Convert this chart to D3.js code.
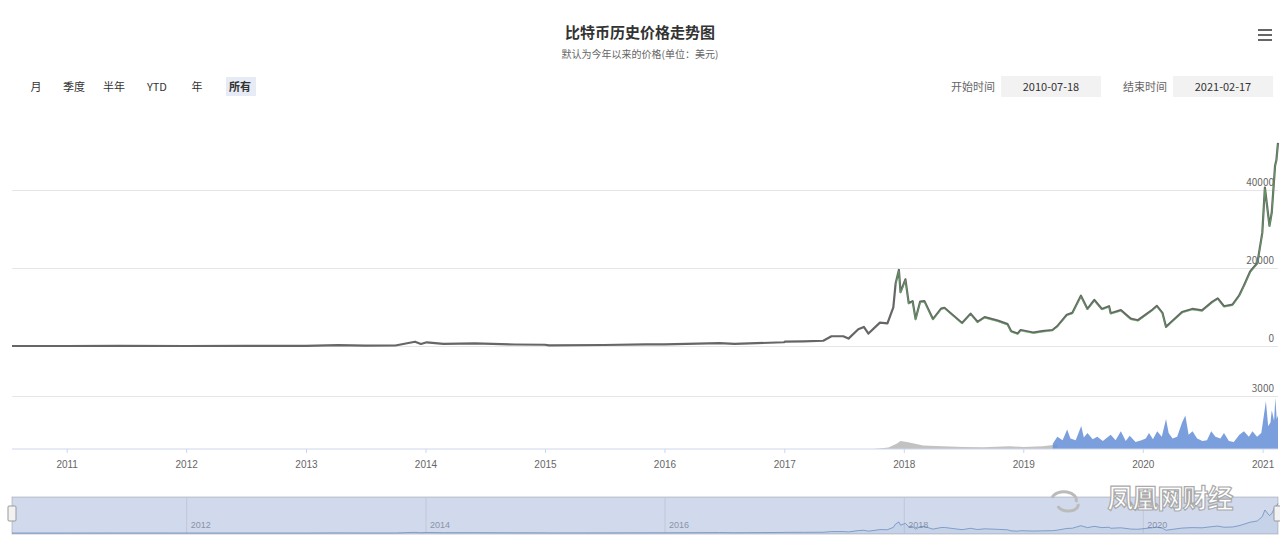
<!DOCTYPE html>
<html>
<head>
<meta charset="utf-8">
<script src="https://cdn.jsdelivr.net/npm/d3@7/dist/d3.min.js"></script>
<style>
	body{margin:0;background:#fff;}
	svg{font-family:"Noto Sans CJK SC","Noto Sans",sans-serif;}
	.grid line{stroke:#e6e6e6;}
	.grid path{display:none;}
</style>
</head>
<body>
<div id="chart"></div>
<script>
/*가격 데이터 (날짜, 달러)*/
var price_dates = ["2010-07-18","2011-01-01","2011-06-08","2011-12-31","2012-06-30","2012-12-31","2013-04-09","2013-07-01","2013-10-01","2013-11-30","2013-12-18","2014-01-05","2014-02-25","2014-06-01","2014-09-30","2014-12-31","2015-01-14","2015-06-30","2015-11-04","2015-12-31","2016-06-17","2016-08-02","2016-12-31","2017-01-04","2017-03-01","2017-04-30","2017-05-25","2017-06-30","2017-07-16","2017-08-15","2017-09-01","2017-09-15","2017-10-20","2017-11-12","2017-11-30","2017-12-07","2017-12-17","2017-12-22","2018-01-06","2018-01-16","2018-01-28","2018-02-06","2018-02-20","2018-03-05","2018-03-31","2018-04-25","2018-05-05","2018-06-28","2018-07-24","2018-08-14","2018-09-05","2018-10-15","2018-11-14","2018-11-25","2018-12-15","2018-12-24","2019-01-31","2019-02-28","2019-03-31","2019-04-15","2019-05-14","2019-05-31","2019-06-26","2019-07-16","2019-08-06","2019-08-29","2019-09-20","2019-09-25","2019-10-26","2019-11-25","2019-12-17","2020-01-31","2020-02-13","2020-03-01","2020-03-12","2020-03-31","2020-04-30","2020-05-31","2020-06-30","2020-07-31","2020-08-17","2020-09-05","2020-10-01","2020-10-21","2020-11-05","2020-11-24","2020-12-16","2020-12-31","2021-01-08","2021-01-22","2021-01-29","2021-02-08","2021-02-12","2021-02-17"];
var price_values = [0.09,0.3,30,4.7,6.7,13.5,230,90,125,1100,520,950,530,650,390,320,180,260,400,430,760,520,960,1130,1200,1350,2500,2500,1900,4300,4900,3200,6000,5800,9900,16000,19500,13800,17100,11000,11500,6900,11400,11500,6900,9600,9800,5900,8300,6200,7400,6500,5600,3800,3200,4100,3450,3800,4100,5100,8000,8500,12900,9500,11800,9500,10200,8400,9200,7000,6600,9350,10300,8500,4900,6400,8700,9500,9150,11300,12200,10200,10600,12900,15500,19100,21300,29000,40600,30800,34300,46200,47600,52100];

/*거래량 (회색 구간 / 파란 구간)*/
var vol_gray_dates = ["2017-10-01","2017-11-15","2017-12-10","2017-12-22","2018-01-10","2018-02-05","2018-03-01","2018-05-01","2018-07-01","2018-09-01","2018-11-20","2019-01-01","2019-03-01","2019-04-15"];
var vol_gray_values = [0,80,300,450,400,300,200,150,120,100,150,120,150,250];
var vol_blue_dates = ["2019-04-01","2019-04-15","2019-05-01","2019-05-15","2019-05-25","2019-06-10","2019-06-27","2019-07-05","2019-07-16","2019-08-01","2019-08-15","2019-09-01","2019-09-25","2019-10-10","2019-10-26","2019-11-10","2019-11-22","2019-12-10","2019-12-28","2020-01-10","2020-01-20","2020-02-01","2020-02-14","2020-02-28","2020-03-12","2020-03-20","2020-04-01","2020-04-15","2020-04-30","2020-05-10","2020-05-20","2020-06-01","2020-06-15","2020-07-01","2020-07-15","2020-07-28","2020-08-10","2020-08-25","2020-09-05","2020-09-20","2020-10-05","2020-10-22","2020-11-05","2020-11-20","2020-12-01","2020-12-15","2020-12-28","2021-01-04","2021-01-11","2021-01-18","2021-01-25","2021-01-29","2021-02-05","2021-02-09","2021-02-13","2021-02-17"];
var vol_blue_values = [300,700,500,1100,600,500,1300,650,900,550,700,450,800,500,1000,450,750,400,500,600,900,550,1000,700,1700,900,600,700,1500,1900,800,1000,600,450,500,1000,700,600,900,450,400,800,1000,700,1000,700,900,1800,2700,1300,1500,2200,1600,2900,1700,1900];

var price_ticks = [0,20000,40000];
var vol_ticks = [3000];
var range_buttons = ["月","季度","半年","YTD","年","所有"];
var range_x = [36,74,114,157,197,240];
var start_date = "2010-07-18";
var end_date = "2021-02-17";
var green_from = "2017-12-01";

var svg_width = 1280, svg_height = 546;
var parseDate = d3.timeParse("%Y-%m-%d");

function toRows(dates, values){
	return dates.map(function(d,i){ return {date:parseDate(d), value:values[i]}; });
}
var price_data = toRows(price_dates, price_values);
var vol_gray = toRows(vol_gray_dates, vol_gray_values);
var vol_blue = toRows(vol_blue_dates, vol_blue_values);

var svg = d3.select("#chart").append("svg")
			.attr("width",svg_width)
			.attr("height",svg_height);

svg.append("rect").attr("width",svg_width).attr("height",svg_height).attr("fill","#fff");

/*제목*/
svg.append("text")
   .attr("x",640).attr("y",38)
   .attr("text-anchor","middle")
   .attr("font-size",15).attr("font-weight","bold").attr("fill","#333")
   .text("比特币历史价格走势图");
svg.append("text")
   .attr("x",640).attr("y",58)
   .attr("text-anchor","middle")
   .attr("font-size",10).attr("fill","#666")
   .text("默认为今年以来的价格(单位：美元)");

/*메뉴 아이콘*/
svg.append("g").selectAll("rect")
   .data([0,1,2]).enter().append("rect")
   .attr("x",1258).attr("y",function(d){ return 29 + d*5; })
   .attr("width",14).attr("height",2)
   .attr("fill","#666");

/*범위 버튼*/
var btn_g = svg.append("g");
btn_g.append("rect")
	 .attr("x",226).attr("y",77).attr("width",30).attr("height",19)
	 .attr("fill","#e6ebf5");
btn_g.selectAll("text")
	 .data(range_buttons).enter().append("text")
	 .attr("x",function(d,i){ return range_x[i]; })
	 .attr("y",91)
	 .attr("text-anchor","middle")
	 .attr("font-size",11)
	 .attr("font-weight",function(d,i){ return i==5 ? "bold" : "normal"; })
	 .attr("fill","#333")
	 .text(function(d){ return d; });

/*날짜 입력*/
var input_g = svg.append("g").attr("font-size",11);
input_g.append("text").attr("x",995).attr("y",91).attr("text-anchor","end").attr("fill","#666").text("开始时间");
input_g.append("rect").attr("x",1001).attr("y",76).attr("width",100).attr("height",21).attr("fill","#f2f2f2");
input_g.append("text").attr("x",1051).attr("y",91).attr("text-anchor","middle").attr("fill","#333").text(start_date);
input_g.append("text").attr("x",1167).attr("y",91).attr("text-anchor","end").attr("fill","#666").text("结束时间");
input_g.append("rect").attr("x",1173).attr("y",76).attr("width",100).attr("height",21).attr("fill","#f2f2f2");
input_g.append("text").attr("x",1223).attr("y",91).attr("text-anchor","middle").attr("fill","#333").text(end_date);

/*스케일*/
var plot_left = 12, plot_right = 1278;
var xScale = d3.scaleTime()
			   .domain([parseDate(start_date), parseDate(end_date)])
			   .range([plot_left, plot_right]);
var yScale = d3.scaleLinear().domain([0,60000]).range([346,112]);
var vScale = d3.scaleLinear().domain([0,3000]).range([449,396]);

/*가격 그리드*/
svg.append("g")
   .attr("class","grid")
   .attr("transform","translate(" + plot_left + ",0)")
   .call(d3.axisLeft(yScale).tickValues(price_ticks).tickSize(-(plot_right-plot_left)).tickFormat(""));
svg.append("g").selectAll("text")
   .data(price_ticks).enter().append("text")
   .attr("x",1274).attr("y",function(d){ return yScale(d) - 4; })
   .attr("text-anchor","end").attr("font-size",10).attr("fill","#666")
   .text(function(d){ return d; });

/*거래량 그리드*/
svg.append("g")
   .attr("class","grid")
   .attr("transform","translate(" + plot_left + ",0)")
   .call(d3.axisLeft(vScale).tickValues(vol_ticks).tickSize(-(plot_right-plot_left)).tickFormat(""));
svg.append("g").selectAll("text")
   .data(vol_ticks).enter().append("text")
   .attr("x",1274).attr("y",function(d){ return vScale(d) - 4; })
   .attr("text-anchor","end").attr("font-size",10).attr("fill","#666")
   .text(function(d){ return d; });

/*가격 라인*/
var line = d3.line()
			 .x(function(d){ return xScale(d.date); })
			 .y(function(d){ return yScale(d.value); });

svg.append("path")
   .attr("d",line(price_data))
   .attr("fill","none").attr("stroke","#666").attr("stroke-width",2.2)
   .attr("stroke-linejoin","round");

var green_data = price_data.filter(function(d){ return d.date >= parseDate(green_from); });
svg.append("path")
   .attr("d",line(green_data))
   .attr("transform","translate(0,1)")
   .attr("fill","none").attr("stroke","#5cbf5c").attr("stroke-width",1)
   .attr("stroke-opacity",0.55)
   .attr("stroke-linejoin","round");

/*거래량 영역*/
var vArea = d3.area()
			  .x(function(d){ return xScale(d.date); })
			  .y0(vScale(0))
			  .y1(function(d){ return vScale(d.value); });
svg.append("path").attr("d",vArea(vol_gray)).attr("fill","#9a9a9a").attr("fill-opacity",0.6);
svg.append("path").attr("d",vArea(vol_blue)).attr("fill","#6d93d9").attr("fill-opacity",0.9);

/*x축*/
var xAxis = d3.axisBottom(xScale)
			  .ticks(d3.timeYear.every(1))
			  .tickFormat(d3.timeFormat("%Y"))
			  .tickSize(4).tickPadding(8);
var x_g = svg.append("g").attr("transform","translate(0,449)").call(xAxis);
x_g.select(".domain").attr("stroke","#ccd6eb").attr("d","M" + plot_left + ",0H" + plot_right);
x_g.selectAll(".tick line").attr("stroke","#ccd6eb");
x_g.selectAll("text").attr("fill","#666").attr("font-size",10);

/*내비게이터*/
var nav_top = 497, nav_bottom = 534;
var nyScale = d3.scaleLinear().domain([0,60000]).range([nav_bottom-1, nav_top+2]);
var nav_g = svg.append("g");
nav_g.append("rect")
	 .attr("x",plot_left).attr("y",nav_top)
	 .attr("width",plot_right-plot_left).attr("height",nav_bottom-nav_top)
	 .attr("fill","#fff").attr("stroke","#cccccc");

var navAxis = d3.axisBottom(xScale)
				.ticks(d3.timeYear.every(2))
				.tickSize(-(nav_bottom-nav_top))
				.tickFormat(d3.timeFormat("%Y"));
var nav_axis_g = nav_g.append("g").attr("transform","translate(0," + nav_bottom + ")").call(navAxis);
nav_axis_g.select(".domain").remove();
nav_axis_g.selectAll(".tick line").attr("stroke","#e6e6e6");
nav_axis_g.selectAll("text")
		  .attr("fill","#999").attr("font-size",9)
		  .attr("text-anchor","start")
		  .attr("x",4).attr("y",-12);

var navArea = d3.area()
				.x(function(d){ return xScale(d.date); })
				.y0(nav_bottom)
				.y1(function(d){ return nyScale(d.value); });
nav_g.append("path").attr("d",navArea(price_data)).attr("fill","#4572a7").attr("fill-opacity",0.08);
nav_g.append("path")
	 .attr("d",d3.line().x(function(d){ return xScale(d.date); }).y(function(d){ return nyScale(d.value); })(price_data))
	 .attr("fill","none").attr("stroke","#4572a7").attr("stroke-opacity",0.6).attr("stroke-width",1);

/*선택 마스크*/
nav_g.append("rect")
	 .attr("x",plot_left).attr("y",nav_top)
	 .attr("width",plot_right-plot_left).attr("height",nav_bottom-nav_top)
	 .attr("fill","rgba(102,133,194,0.3)");

nav_g.selectAll(".handle")
	 .data([plot_left, plot_right]).enter().append("rect")
	 .attr("class","handle")
	 .attr("x",function(d){ return d - 4; }).attr("y",506)
	 .attr("width",8).attr("height",15).attr("rx",1)
	 .attr("fill","#f2f2f2").attr("stroke","#999");

/*워터마크*/
var wm = svg.append("g");
wm.append("path")
  .attr("d","M1052,498 a12,8 0 1,1 24,4 M1058,506 a10,6 0 0,0 20,-2")
  .attr("fill","none").attr("stroke","#bbb").attr("stroke-width",3);
wm.append("text")
  .attr("x",1170).attr("y",508)
  .attr("text-anchor","middle")
  .attr("font-size",26).attr("font-weight","bold")
  .attr("fill","#fff").attr("stroke","#aaa").attr("stroke-width",1.2)
  .attr("letter-spacing",-1)
  .text("凤凰网财经");
</script>
</body>
</html>
